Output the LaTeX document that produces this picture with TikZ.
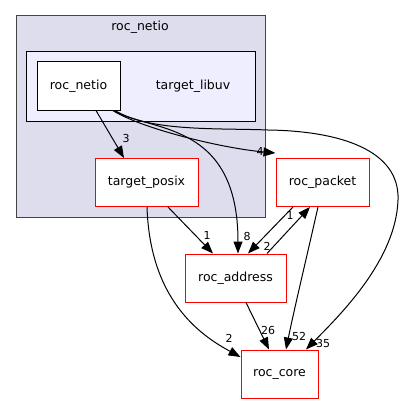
\documentclass[tikz,border=0pt]{standalone}
\usepackage{fontspec}
\setmainfont{DejaVu Sans}
\usetikzlibrary{arrows.meta}
\definecolor{clusterfill}{HTML}{DDDDEE}
\definecolor{subfill}{HTML}{EEEEFF}
\definecolor{frame}{HTML}{444444}
\tikzset{
  box/.style={draw=red, fill=white, line width=1pt, minimum height=48pt, inner sep=0pt,
              font=\fontsize{12.5}{14}\selectfont},
  dirbox/.style={draw=black, fill=white, line width=1pt, minimum height=48pt, inner sep=0pt,
              font=\fontsize{12.5}{14}\selectfont},
  dep/.style={draw=black, line width=1pt, -{Triangle[length=12pt,width=9pt]}},
  lbl/.style={font=\fontsize{11}{12}\selectfont, inner sep=0pt},
  cl/.style={font=\fontsize{12.5}{14}\selectfont, inner sep=0pt}
}
\begin{document}
\begin{tikzpicture}[x=1pt,y=-1pt]
\useasboundingbox (0,0) rectangle (403,404);
% directory clusters
\draw[frame, fill=clusterfill, line width=1pt] (16,16) rectangle (265,217);
\node[cl] (outerlabel) at (140,27) {roc\_netio};
\draw[black, fill=subfill, line width=1pt] (26,52) rectangle (255,121);
\node[cl] (innerlabel) at (193,86) {target\_libuv};
% nodes
\node[dirbox, minimum width=83pt] (netio) at (78.5,86) {roc\_netio};
\node[box, minimum width=103pt] (posix) at (146.5,182.5) {target\_posix};
\node[box, minimum width=93pt] (packet) at (322.5,182.5) {roc\_packet};
\node[box, minimum width=101pt] (address) at (235.5,278) {roc\_address};
\node[box, minimum width=77pt] (core) at (279.5,374) {roc\_core};
% dependencies
\coordinate (n1) at (96,110.5);
\coordinate (n2) at (113,110.5);
\coordinate (n3) at (115,110.5);
\draw[dep] (n1) -- (posix.north -| 124,0);
\node[lbl] (l3) at (126,138) {3};
\draw[dep] (n2) .. controls (140,128) and (220,148) .. ([yshift=5pt]packet.north west);
\node[lbl] (l4) at (260,151) {4};
\draw[dep] (n2) .. controls (150,132) and (238,120) .. (address.north -| 238,0);
\node[lbl] (l8) at (247,236) {8};
\draw[dep] (n3) .. controls (150,132) and (220,128) .. (268,130)
  .. controls (340,131) and (400,150) .. (398,200)
  .. controls (396,260) and (340,315) .. (core.north -| 306,0);
\node[lbl] (l35) at (323,343) {35};
\draw[dep] (posix.south -| 168,0) -- (address.north -| 213,0);
\node[lbl] (l1a) at (207,235) {1};
\draw[dep] (posix.south -| 147,0) .. controls (150,300) and (200,335) .. (core.west |- 0,357);
\node[lbl] (l2a) at (229,338) {2};
\draw[dep] (address.north -| 267,0) -- (packet.south -| 310,0);
\node[lbl] (l1b) at (290,215) {1};
\draw[dep] (packet.south -| 293,0) -- (address.north -| 248,0);
\node[lbl] (l2b) at (267,246) {2};
\draw[dep] (packet.south -| 318,0) .. controls (306,260) and (294,310) .. (core.north -| 286,0);
\node[lbl] (l52) at (299,336) {52};
\draw[dep] (address.south -| 246,0) -- (core.north -| 269,0);
\node[lbl] (l26) at (268,330) {26};
\end{tikzpicture}
\end{document}
